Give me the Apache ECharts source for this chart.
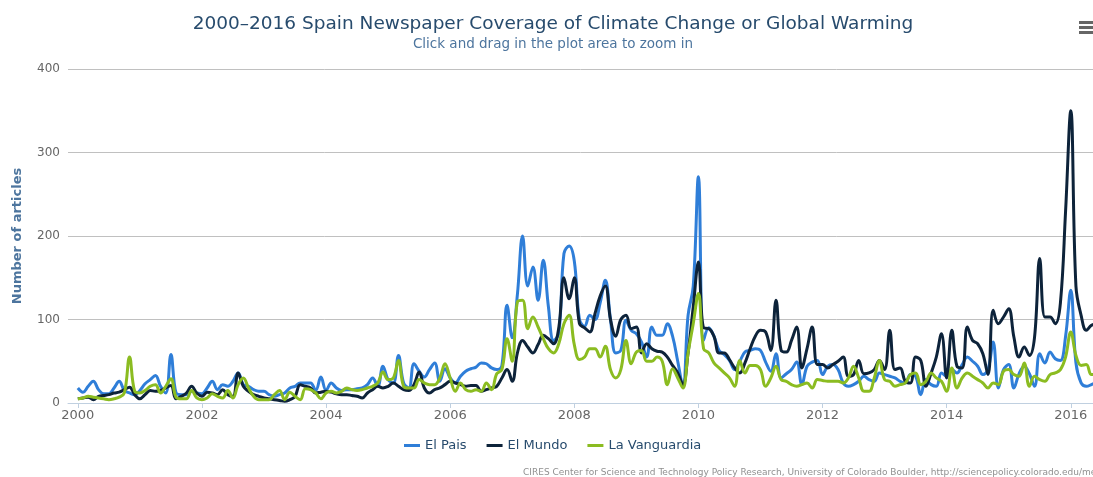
<!DOCTYPE html>
<html>
<head>
<meta charset="utf-8">
<script src="https://cdn.jsdelivr.net/npm/echarts@6/dist/echarts.min.js"></script>
<style>
  html, body { margin: 0; padding: 0; background: #fff; }
  #chart { width: 1093px; height: 477px; }
</style>
</head>
<body>
<div id="chart"></div>
<script>
// monthly article counts, Jan 2000 onwards (one row per year)
var startYear = 2000;
var yearTicks = [2000, 2002, 2004, 2006, 2008, 2010, 2012, 2014, 2016];

var elPais = [
  18, 13, 20, 26, 16, 11, 11, 18, 26, 15, 12, 10,
  15, 23, 28, 33, 20, 12, 58, 12, 10, 10, 14, 12,
  11, 18, 26, 16, 22, 20, 26, 36, 22, 20, 16, 14,
  14, 10, 8, 10, 12, 18, 20, 24, 24, 24, 15, 31,
  15, 24, 18, 15, 16, 16, 17, 18, 22, 30, 20, 44,
  28, 24, 57, 24, 18, 47, 38, 31, 40, 48, 26, 41,
  30, 24, 32, 38, 41, 43, 48, 47, 42, 40, 45, 117,
  78, 130, 200, 140, 163, 123, 171, 115, 75, 83, 179, 188,
  170, 100, 92, 105, 100, 120, 147, 100, 60, 63, 99, 87,
  83, 73, 55, 91, 81, 81, 95, 80, 50, 20, 105, 140,
  271, 75, 90, 80, 63, 58, 51, 40, 50, 61, 63, 65,
  63, 49, 38, 59, 30, 35, 40, 49, 22, 44, 49, 51,
  34, 44, 46, 40, 24, 20, 22, 26, 32, 28, 26, 36,
  34, 32, 30, 26, 24, 34, 32, 10, 28, 22, 20, 36,
  32, 40, 36, 46, 55, 50, 44, 34, 40, 73, 18, 40,
  46, 18, 35, 44, 35, 20, 59, 48, 61, 53, 51, 80,
  135, 48, 24, 20, 22, 25
];

var elMundo = [
  5, 6, 7, 4, 8, 9, 10, 12, 13, 16, 19, 10,
  5, 10, 15, 14, 15, 18, 21, 5, 8, 12, 20, 12,
  8, 13, 12, 10, 16, 10, 8, 36, 20, 14, 10, 8,
  6, 5, 4, 3, 2, 4, 8, 22, 20, 18, 12, 13,
  14, 13, 11, 10, 10, 9, 8, 6, 12, 16, 20, 18,
  20, 24, 20, 16, 15, 22, 37, 18, 12, 16, 18, 22,
  26, 24, 22, 20, 21, 21, 14, 16, 18, 20, 30, 40,
  26, 60, 75, 67, 60, 70, 81, 77, 71, 90, 150, 125,
  150, 95, 90, 85, 107, 128, 140, 100, 80, 100, 105, 89,
  91, 60, 71, 65, 62, 61, 55, 45, 36, 22, 60, 115,
  169, 90, 89, 80, 60, 60, 52, 42, 36, 48, 65, 80,
  87, 85, 63, 123, 63, 61, 75, 91, 42, 65, 91, 46,
  46, 42, 46, 50, 55, 32, 34, 51, 35, 36, 40, 51,
  40, 87, 40, 42, 26, 24, 55, 51, 20, 36, 55, 83,
  30, 87, 44, 42, 91, 75, 71, 59, 34, 111, 95, 103,
  113, 79, 55, 67, 57, 79, 173, 103, 103, 95, 120, 230,
  350, 140, 105, 87, 93, 95
];

var laVanguardia = [
  5, 6, 8, 7, 6, 5, 4, 5, 7, 12, 55, 14,
  12, 15, 20, 22, 12, 20, 29, 7, 5, 5, 15, 6,
  4, 6, 11, 8, 6, 15, 6, 22, 30, 18, 8, 4,
  4, 4, 10, 15, 4, 13, 8, 4, 17, 16, 12, 5,
  12, 14, 12, 14, 18, 16, 15, 16, 18, 20, 24, 37,
  28, 30, 51, 20, 18, 18, 28, 24, 22, 22, 30, 47,
  30, 14, 24, 16, 14, 16, 14, 24, 16, 35, 40, 77,
  50, 121, 123, 89, 103, 91, 77, 65, 60, 71, 95, 105,
  70, 52, 55, 65, 65, 55, 68, 40, 30, 40, 75, 47,
  61, 63, 50, 50, 55, 50, 22, 41, 30, 18, 60, 95,
  131, 65, 60, 48, 42, 36, 30, 20, 51, 36, 45, 45,
  40, 20, 30, 44, 28, 26, 22, 20, 22, 24, 18, 28,
  27, 26, 26, 26, 24, 30, 44, 30, 14, 14, 30, 51,
  28, 26, 20, 22, 24, 34, 36, 22, 26, 36, 30, 26,
  14, 42, 18, 30, 36, 32, 28, 24, 18, 24, 22, 38,
  40, 34, 32, 48, 20, 32, 28, 26, 34, 36, 40, 55,
  85, 57, 45, 46, 34, 35
];

// x = months since Jan 2000
function toPoints(arr) {
  return arr.map(function(v, i) { return [i, v]; });
}
var tickMonths = yearTicks.map(function(y) { return (y - startYear) * 12; });

var font = 'DejaVu Sans';
var myChart = echarts.init(document.getElementById('chart'));

var option = {
  animation: false,
  textStyle: { fontFamily: font },
  title: [{
    text: '2000\u20132016 Spain Newspaper Coverage of Climate Change or Global Warming',
    left: 553,
    textAlign: 'center',
    top: 15,
    padding: 0,
    textStyle: { color: '#274b6d', fontSize: 18.5, fontWeight: 'normal', fontFamily: font }
  }, {
    text: 'Click and drag in the plot area to zoom in',
    left: 553,
    textAlign: 'center',
    top: 37,
    padding: 0,
    textStyle: { color: '#4d759e', fontSize: 13.5, fontWeight: 'normal', fontFamily: font }
  }, {
    text: 'CIRES Center for Science and Technology Policy Research, University of Colorado Boulder, http://sciencepolicy.colorado.edu/media_coverage',
    left: 523,
    top: 468,
    padding: 0,
    textStyle: { color: '#909090', fontSize: 9, fontWeight: 'normal', fontFamily: font }
  }],
  legend: {
    top: 439,
    left: 404,
    padding: 0,
    itemGap: 20,
    itemWidth: 16,
    itemHeight: 3,
    icon: 'rect',
    textStyle: { color: '#274b6d', fontSize: 13, fontFamily: font },
    data: ['El Pais', 'El Mundo', 'La Vanguardia']
  },
  graphic: [{
    type: 'group',
    left: 1079,
    top: 21,
    children: [
      { type: 'rect', shape: { x: 0, y: 0, width: 14, height: 3 }, style: { fill: '#666' } },
      { type: 'rect', shape: { x: 0, y: 5, width: 14, height: 3 }, style: { fill: '#666' } },
      { type: 'rect', shape: { x: 0, y: 10, width: 14, height: 3 }, style: { fill: '#666' } }
    ]
  }],
  grid: { left: 68, right: 0, top: 69, bottom: 74 },
  xAxis: {
    type: 'value',
    min: -1.9,
    max: 196.3,
    splitLine: { show: false },
    axisLine: { lineStyle: { color: '#C0D0E0', width: 1 } },
    axisTick: { customValues: tickMonths, length: 5, lineStyle: { color: '#C0D0E0' } },
    axisLabel: {
      customValues: tickMonths,
      color: '#666',
      fontSize: 13,
      margin: 6,
      formatter: function(v) { return String(startYear + Math.round(v / 12)); }
    }
  },
  yAxis: {
    type: 'value',
    min: 0,
    max: 400,
    interval: 100,
    name: 'Number of articles',
    nameLocation: 'middle',
    nameGap: 44,
    nameTextStyle: { color: '#4d759e', fontSize: 13, fontWeight: 'bold', fontFamily: font },
    axisLine: { show: false },
    axisTick: { show: false },
    axisLabel: { color: '#666', fontSize: 12, margin: 8 },
    splitLine: { lineStyle: { color: '#C0C0C0', width: 1 } }
  },
  series: [{
    name: 'El Pais',
    type: 'line',
    smooth: 0.4,
    symbol: 'none',
    color: '#2f7ed8',
    lineStyle: { width: 3 },
    data: toPoints(elPais)
  }, {
    name: 'El Mundo',
    type: 'line',
    smooth: 0.4,
    symbol: 'none',
    color: '#0d233a',
    lineStyle: { width: 3 },
    data: toPoints(elMundo)
  }, {
    name: 'La Vanguardia',
    type: 'line',
    smooth: 0.4,
    symbol: 'none',
    color: '#8bbc21',
    lineStyle: { width: 3 },
    data: toPoints(laVanguardia)
  }]
};
myChart.setOption(option);
</script>
</body>
</html>
